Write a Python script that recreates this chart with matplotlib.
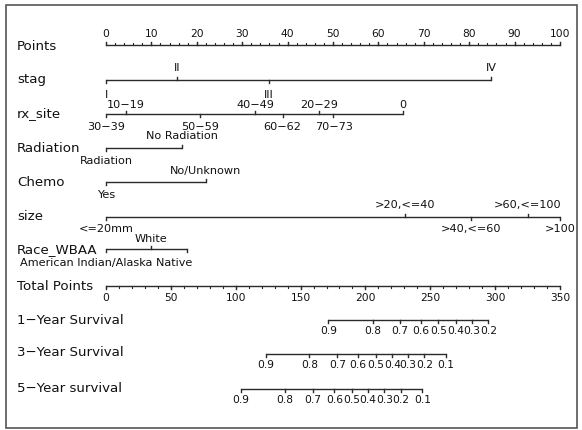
import matplotlib
matplotlib.use("Agg")
import matplotlib.pyplot as plt
from matplotlib.patches import Rectangle
import numpy as np

# ---------------- data (points scale 0-100, total points 0-350) ----------------
points_major = list(range(0, 101, 10))
points_minor = list(range(0, 101, 2))

stag_levels = ["I", "II", "III", "IV"]
stag_pts = [0, 15.6, 35.9, 84.8]

rx_site_levels = ["30\u221239", "10\u221219", "50\u221259", "40\u221249",
                  "60\u221262", "20\u221229", "70\u221273", "0"]
rx_site_pts = [0, 4.4, 20.8, 32.8, 38.9, 47.0, 50.1, 65.4]

radiation_levels = ["Radiation", "No Radiation"]
radiation_pts = [0, 16.7]

chemo_levels = ["Yes", "No/Unknown"]
chemo_pts = [0, 22.0]

size_levels = ["<=20mm", ">20,<=40", ">40,<=60", ">60,<=100", ">100"]
size_pts = [0, 65.9, 80.3, 92.9, 100]

race_levels = ["American Indian/Alaska Native", "White", ""]
race_pts = [0, 10.0, 17.8]

total_major = list(range(0, 351, 50))
total_minor = list(range(0, 351, 10))
total_max = 350

surv_1y_labels = ["0.9", "0.8", "0.7", "0.6", "0.5", "0.4", "0.3", "0.2"]
surv_1y_tp = [171.4, 205.6, 226.6, 242.8, 256.2, 269.5, 281.9, 294.7]

surv_3y_labels = ["0.9", "0.8", "0.7", "0.6", "0.5", "0.4", "0.3", "0.2", "0.1"]
surv_3y_tp = [123.1, 156.8, 178.4, 194.1, 208.0, 220.8, 232.6, 245.4, 261.9]

surv_5y_labels = ["0.9", "0.8", "0.7", "0.6", "0.5", "0.4", "0.3", "0.2", "0.1"]
surv_5y_tp = [104.1, 138.0, 159.4, 176.0, 189.4, 201.7, 214.6, 227.4, 243.9]

# ---------------- figure ----------------
W, H, DPI = 582, 430, 100
plt.rcParams['font.family'] = ['DejaVu Sans']
fig = plt.figure(figsize=(W / DPI, H / DPI), dpi=DPI)
fig.patch.set_facecolor("white")
ax = fig.add_axes([0, 0, 1, 1])
x0px, scale = 106, 4.54
ax.set_xlim(-x0px / scale, (W - x0px) / scale)
ax.set_ylim(H, 0)
ax.axis("off")

LC = "#2a2a2a"
TC = "#111111"
LW = 1.0
ROW_FS = 9.6
CAT_FS = 8.1
TICK_FS = 7.7
label_x = 17 / W

fig.patches.append(Rectangle((6 / W, 2 / H), 571 / W, 423 / H, transform=fig.transFigure,
                             fill=False, edgecolor="#555555", linewidth=1.2))


def row_label(y, text):
    ax.text(label_x, y, text, transform=ax.get_yaxis_transform(), ha="left", va="center",
            fontsize=ROW_FS, color=TC)


def scale_axis(y, major, minor, labels, factor, up, ly):
    d = -1 if up else 1
    xs_maj = [m * factor for m in major]
    ax.plot([min(xs_maj), max(xs_maj)], [y, y], color=LC, lw=LW, solid_capstyle="butt")
    for m in minor:
        ax.plot([m * factor] * 2, [y, y + d * 1.8], color=LC, lw=LW * 0.8)
    for xm, lab in zip(xs_maj, labels):
        ax.plot([xm, xm], [y, y + d * 3.2], color=LC, lw=LW)
        ax.text(xm, ly, lab, ha="center", va="center", fontsize=TICK_FS, color=TC)


def cat_axis(y, pts, labels, y_above, y_below, fs=CAT_FS):
    order = np.argsort(pts)
    ax.plot([min(pts), max(pts)], [y, y], color=LC, lw=LW, solid_capstyle="butt")
    for k, i in enumerate(order):
        below = (k % 2 == 0)
        d = 1 if below else -1
        ax.plot([pts[i]] * 2, [y, y + d * 3.2], color=LC, lw=LW)
        if labels[i]:
            ax.text(pts[i], y_below if below else y_above, labels[i], ha="center",
                    va="center", fontsize=fs, color=TC)


def surv_axis(y, tp, labels, ly):
    xs = [t * 100 / total_max for t in tp]
    ax.plot([min(xs), max(xs)], [y, y], color=LC, lw=LW, solid_capstyle="butt")
    for xv, lab in zip(xs, labels):
        ax.plot([xv, xv], [y, y + 3.2], color=LC, lw=LW)
        ax.text(xv, ly, lab, ha="center", va="center", fontsize=TICK_FS, color=TC)


# Points
row_label(46, "Points")
scale_axis(45, points_major, points_minor, [str(v) for v in points_major], 1.0, True, 34)

# stag
row_label(80, "stag")
cat_axis(80, stag_pts, stag_levels, 68, 95)

# rx_site
row_label(114, "rx_site")
cat_axis(114, rx_site_pts, rx_site_levels, 104.5, 127)

# Radiation
row_label(148, "Radiation")
cat_axis(148, radiation_pts, radiation_levels, 136, 161)

# Chemo
row_label(182, "Chemo")
cat_axis(182, chemo_pts, chemo_levels, 171, 195)

# size
row_label(217, "size")
cat_axis(217, size_pts, size_levels, 205, 229)

# Race
row_label(250, "Race_WBAA")
cat_axis(249, race_pts, race_levels, 239, 263)

# Total points
row_label(286, "Total Points")
scale_axis(286, total_major, total_minor, [str(v) for v in total_major],
           100 / total_max, False, 298)

# survival
row_label(320, "1\u2212Year Survival")
surv_axis(320, surv_1y_tp, surv_1y_labels, 331)
row_label(353, "3\u2212Year Survival")
surv_axis(354, surv_3y_tp, surv_3y_labels, 365)
row_label(388, "5\u2212Year survival")
surv_axis(389, surv_5y_tp, surv_5y_labels, 400)

fig.savefig("out.png", dpi=DPI)
